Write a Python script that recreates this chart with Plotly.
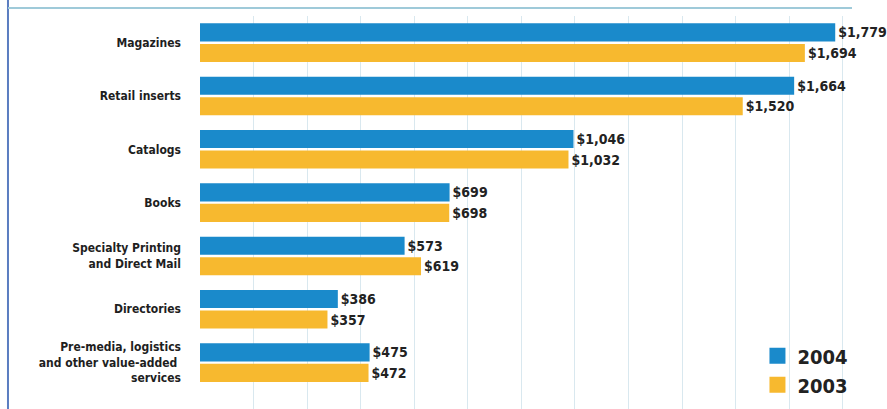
import plotly.graph_objects as go

# Revenue by segment, $ millions
categories = [
    "Magazines",
    "Retail inserts",
    "Catalogs",
    "Books",
    "Specialty Printing<br>and Direct Mail",
    "Directories",
    "Pre-media, logistics<br>and other value-added <br>services",
]
values_2004 = [1779, 1664, 1046, 699, 573, 386, 475]
values_2003 = [1694, 1520, 1032, 698, 619, 357, 472]
series_names = ["2004", "2003"]

BLUE = "#1a8acb"
YELLOW = "#f7b92f"
FONT = "Liberation Sans Narrow, DejaVu Sans Condensed, Arial Narrow, sans-serif"


def money(v):
    return f"${v:,}"


fig = go.Figure()
for name, vals, color in [
    (series_names[0], values_2004, BLUE),
    (series_names[1], values_2003, YELLOW),
]:
    fig.add_trace(go.Bar(
        y=categories,
        x=vals,
        orientation="h",
        name=name,
        marker=dict(color=color, line=dict(width=0)),
        text=[money(v) for v in vals],
        textposition="outside",
        textfont=dict(family=FONT, size=14, color="#222222", weight="bold"),
        cliponaxis=False,
        showlegend=False,
        hoverinfo="skip",
    ))
    # legend swatch
    fig.add_trace(go.Scatter(
        x=[None], y=[None],
        mode="markers",
        name=name,
        marker=dict(symbol="square", size=20, color=color),
        showlegend=True,
    ))

fig.update_layout(
    width=887,
    height=409,
    margin=dict(l=200, r=35, t=16, b=0),
    paper_bgcolor="white",
    plot_bgcolor="white",
    barmode="group",
    bargap=0.23,
    bargroupgap=0.12,
    font=dict(family=FONT, color="#222222"),
    legend=dict(
        x=0.855, y=0.185, xanchor="left", yanchor="top",
        font=dict(family=FONT, size=20, color="#222222", weight="bold"),
        bgcolor="rgba(0,0,0,0)",
        tracegroupgap=0,
        itemsizing="trace",
    ),
    xaxis=dict(
        range=[0, 1826],
        dtick=150,
        tick0=0,
        showticklabels=False,
        showgrid=True,
        gridcolor="#d9e8ef",
        gridwidth=1,
        zeroline=False,
        showline=False,
        ticks="",
    ),
    yaxis=dict(
        range=[6.87, -0.5],
        showgrid=False,
        zeroline=False,
        showline=False,
        ticks="",
        ticklabelstandoff=18,
        tickfont=dict(family=FONT, size=12, color="#1e1e1e", weight="bold"),
    ),
    shapes=[
        # frame: left rule and top rule
        dict(type="line", xref="paper", yref="paper",
             x0=-0.2945, x1=-0.2945, y0=-0.05, y1=1.1,
             line=dict(color="#5b7dc1", width=2)),
        dict(type="line", xref="paper", yref="paper",
             x0=-0.2945, x1=1.0, y0=1.0204, y1=1.0204,
             line=dict(color="#9fcad9", width=2)),
    ],
)

fig.write_html("out.html")
